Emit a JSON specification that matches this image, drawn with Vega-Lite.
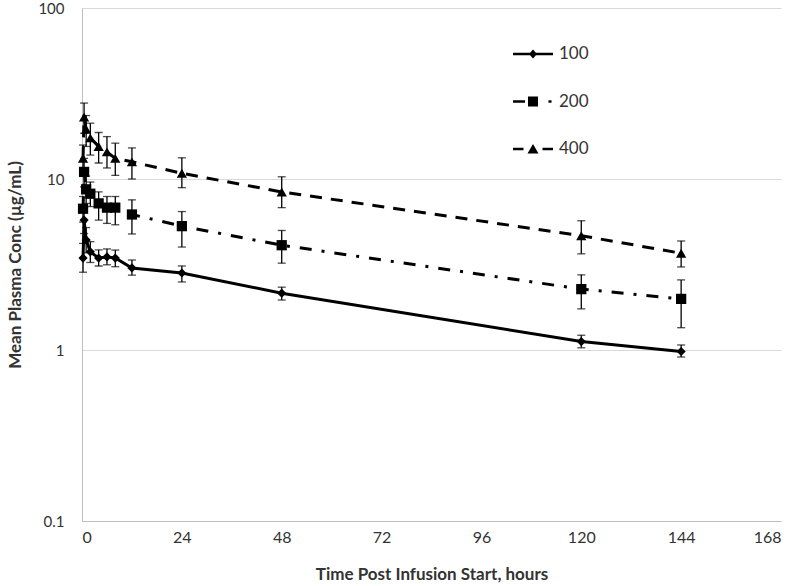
{
  "$schema": "https://vega.github.io/schema/vega-lite/v6.json",
  "width": 699,
  "height": 513,
  "autosize": "none",
  "padding": {"left": 82, "top": 8, "right": 19, "bottom": 65},
  "background": "white",
  "config": {
    "view": {"stroke": null},
    "font": "Lato",
    "axis": {
      "domainColor": "#bfbfbf",
      "domainWidth": 1,
      "ticks": false,
      "labelFont": "Lato",
      "labelFontSize": 16,
      "labelColor": "#333333",
      "titleFont": "Lato",
      "titleFontSize": 17,
      "titleFontWeight": "bold",
      "titleColor": "#333333",
      "gridColor": "#d9d9d9",
      "gridWidth": 1
    },
    "legend": {
      "title": null,
      "orient": "none",
      "legendX": 441,
      "legendY": 36,
      "padding": 0,
      "labelFont": "Lato",
      "labelFontSize": 17,
      "labelColor": "#333333",
      "rowPadding": 29.5,
      "labelOffset": 16,
      "symbolSize": 400,
      "symbolStrokeWidth": 0,
      "symbolFillColor": "black"
    }
  },
  "data": {
    "values": [
      {"dose": "100", "t": 0.25, "mean": 3.45, "lo": 2.85, "hi": 4.2},
      {"dose": "100", "t": 0.5, "mean": 5.75, "lo": 4.8, "hi": 6.8},
      {"dose": "100", "t": 1, "mean": 4.4, "lo": 3.7, "hi": 5.2},
      {"dose": "100", "t": 2, "mean": 3.75, "lo": 3.25, "hi": 4.3},
      {"dose": "100", "t": 4, "mean": 3.45, "lo": 3.1, "hi": 3.85},
      {"dose": "100", "t": 6, "mean": 3.5, "lo": 3.15, "hi": 3.9},
      {"dose": "100", "t": 8, "mean": 3.45, "lo": 3.07, "hi": 3.84},
      {"dose": "100", "t": 12, "mean": 3.02, "lo": 2.74, "hi": 3.36},
      {"dose": "100", "t": 24, "mean": 2.82, "lo": 2.5, "hi": 3.1},
      {"dose": "100", "t": 48, "mean": 2.15, "lo": 1.96, "hi": 2.33},
      {"dose": "100", "t": 120, "mean": 1.12, "lo": 1.03, "hi": 1.22},
      {"dose": "100", "t": 144, "mean": 0.98, "lo": 0.91, "hi": 1.07},
      {"dose": "200", "t": 0.25, "mean": 6.7, "lo": 5.6, "hi": 7.9},
      {"dose": "200", "t": 0.5, "mean": 11.0, "lo": 9.0, "hi": 13.2},
      {"dose": "200", "t": 1, "mean": 8.7, "lo": 7.2, "hi": 10.4},
      {"dose": "200", "t": 2, "mean": 8.2, "lo": 6.9, "hi": 9.6},
      {"dose": "200", "t": 4, "mean": 7.2, "lo": 5.75, "hi": 8.4},
      {"dose": "200", "t": 6, "mean": 6.8, "lo": 5.5, "hi": 7.9},
      {"dose": "200", "t": 8, "mean": 6.8, "lo": 5.4, "hi": 7.9},
      {"dose": "200", "t": 12, "mean": 6.2, "lo": 4.77, "hi": 7.55},
      {"dose": "200", "t": 24, "mean": 5.3, "lo": 4.0, "hi": 6.45},
      {"dose": "200", "t": 48, "mean": 4.1, "lo": 3.22, "hi": 5.0},
      {"dose": "200", "t": 120, "mean": 2.27, "lo": 1.74, "hi": 2.75},
      {"dose": "200", "t": 144, "mean": 1.99, "lo": 1.35, "hi": 2.57},
      {"dose": "400", "t": 0.25, "mean": 13.2, "lo": 10.8, "hi": 15.8},
      {"dose": "400", "t": 0.5, "mean": 23.0, "lo": 18.5, "hi": 27.8},
      {"dose": "400", "t": 1, "mean": 19.5, "lo": 15.5, "hi": 23.5},
      {"dose": "400", "t": 2, "mean": 17.4, "lo": 13.8, "hi": 21.2},
      {"dose": "400", "t": 4, "mean": 15.5, "lo": 12.4, "hi": 18.7},
      {"dose": "400", "t": 6, "mean": 14.4, "lo": 11.6, "hi": 17.7},
      {"dose": "400", "t": 8, "mean": 13.2, "lo": 10.5, "hi": 16.2},
      {"dose": "400", "t": 12, "mean": 12.6, "lo": 10.0, "hi": 15.2},
      {"dose": "400", "t": 24, "mean": 10.8, "lo": 8.9, "hi": 13.3},
      {"dose": "400", "t": 48, "mean": 8.4, "lo": 6.8, "hi": 10.3},
      {"dose": "400", "t": 120, "mean": 4.66, "lo": 3.65, "hi": 5.7},
      {"dose": "400", "t": 144, "mean": 3.68, "lo": 3.06, "hi": 4.34}
    ]
  },
  "encoding": {
    "x": {
      "field": "t",
      "type": "quantitative",
      "scale": {"domain": [0, 168], "nice": false, "zero": false},
      "axis": {
        "title": "Time Post Infusion Start, hours",
        "values": [0, 24, 48, 72, 96, 120, 144, 168],
        "grid": false,
        "labelPadding": 8,
        "titlePadding": 21
      }
    },
    "y": {
      "field": "mean",
      "type": "quantitative",
      "scale": {"type": "log", "domain": [0.1, 100], "nice": false},
      "axis": {
        "title": "Mean Plasma Conc (µg/mL)",
        "values": [0.1, 1, 10, 100],
        "format": "~g",
        "grid": true,
        "labelFontSize": 15,
        "labelPadding": 18,
        "titlePadding": 13
      }
    }
  },
  "layer": [
    {
      "transform": [{"filter": "datum.dose == '100'"}],
      "mark": {"type": "line", "color": "black", "strokeWidth": 3}
    },
    {
      "transform": [{"filter": "datum.dose == '200'"}],
      "mark": {"type": "line", "color": "black", "strokeWidth": 3, "strokeDash": [12, 10, 3, 10]}
    },
    {
      "transform": [{"filter": "datum.dose == '400'"}],
      "mark": {"type": "line", "color": "black", "strokeWidth": 3, "strokeDash": [12, 9]}
    },
    {
      "mark": {"type": "rule", "color": "black", "strokeWidth": 1.3},
      "encoding": {
        "y": {
          "field": "lo",
          "type": "quantitative",
          "scale": {"type": "log", "domain": [0.1, 100], "nice": false},
          "axis": {
            "title": "Mean Plasma Conc (µg/mL)",
            "values": [0.1, 1, 10, 100],
            "format": "~g",
            "grid": true,
            "labelFontSize": 15,
            "labelPadding": 18,
            "titlePadding": 13
          }
        },
        "y2": {"field": "hi"}
      }
    },
    {
      "mark": {"type": "tick", "orient": "horizontal", "size": 8, "thickness": 1.3, "color": "black"},
      "encoding": {
        "y": {
          "field": "lo",
          "type": "quantitative",
          "scale": {"type": "log", "domain": [0.1, 100], "nice": false},
          "axis": {
            "title": "Mean Plasma Conc (µg/mL)",
            "values": [0.1, 1, 10, 100],
            "format": "~g",
            "grid": true,
            "labelFontSize": 15,
            "labelPadding": 18,
            "titlePadding": 13
          }
        }
      }
    },
    {
      "mark": {"type": "tick", "orient": "horizontal", "size": 8, "thickness": 1.3, "color": "black"},
      "encoding": {
        "y": {
          "field": "hi",
          "type": "quantitative",
          "scale": {"type": "log", "domain": [0.1, 100], "nice": false},
          "axis": {
            "title": "Mean Plasma Conc (µg/mL)",
            "values": [0.1, 1, 10, 100],
            "format": "~g",
            "grid": true,
            "labelFontSize": 15,
            "labelPadding": 18,
            "titlePadding": 13
          }
        }
      }
    },
    {
      "transform": [{"filter": "datum.dose == '100'"}],
      "mark": {"type": "point", "shape": "diamond", "filled": true, "color": "black", "opacity": 1, "size": 85}
    },
    {
      "transform": [{"filter": "datum.dose == '200'"}],
      "mark": {"type": "point", "shape": "square", "filled": true, "color": "black", "opacity": 1, "size": 105}
    },
    {
      "transform": [{"filter": "datum.dose == '400'"}],
      "mark": {"type": "point", "shape": "triangle-up", "filled": true, "color": "black", "opacity": 1, "size": 105}
    },
    {
      "transform": [{"filter": "datum.t < 0"}],
      "mark": {"type": "point", "filled": true, "color": "black", "opacity": 1, "size": 400},
      "encoding": {
        "shape": {
          "field": "dose",
          "type": "nominal",
          "scale": {
            "domain": ["100", "200", "400"],
            "range": [
              "M-2,-0.13L2,-0.13L2,0.13L-2,0.13ZM0,-0.45L0.4,0L0,0.45L-0.4,0Z",
              "M-2,-0.13L-0.8,-0.13L-0.8,0.13L-2,0.13ZM-0.5,-0.5L0.5,-0.5L0.5,0.5L-0.5,0.5ZM1.55,-0.13L1.85,-0.13L1.85,0.13L1.55,0.13Z",
              "M-2,-0.13L-0.95,-0.13L-0.95,0.13L-2,0.13ZM0,-0.5L0.55,0.45L-0.55,0.45ZM0.95,-0.13L2,-0.13L2,0.13L0.95,0.13Z"
            ]
          },
          "legend": {"title": null}
        }
      }
    }
  ]
}
